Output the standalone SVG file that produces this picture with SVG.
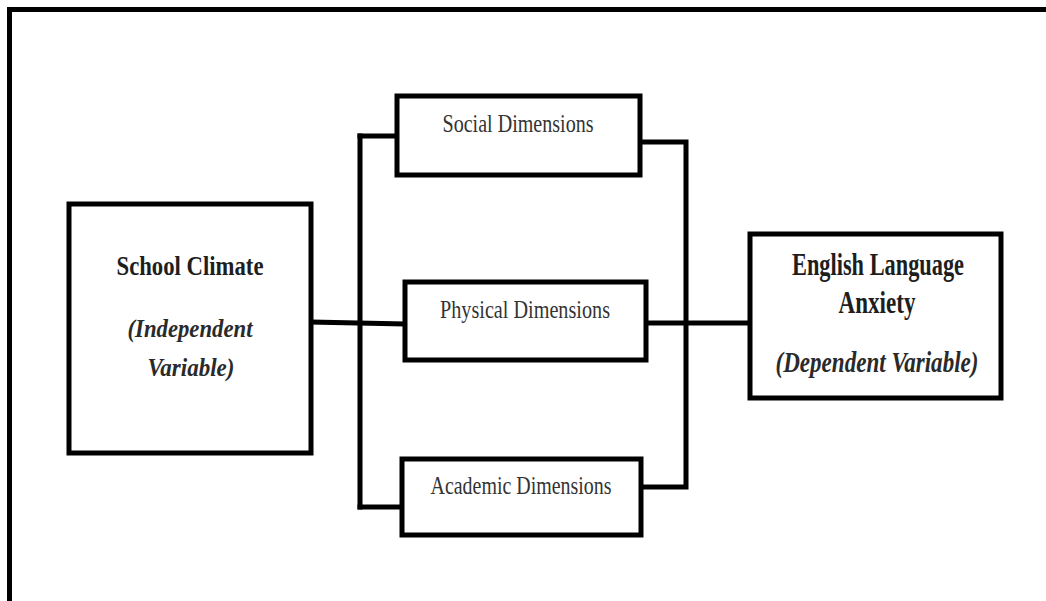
<svg xmlns="http://www.w3.org/2000/svg" width="1046" height="601" viewBox="0 0 1046 601">
<style>
.box{fill:#fff;stroke:#000;stroke-width:5}
.ln{fill:none;stroke:#000;stroke-width:5;stroke-linecap:square;stroke-linejoin:miter}
.t{font-family:"Liberation Serif","Times New Roman",serif;text-anchor:middle}
.reg{fill:#333;font-size:26px}
.bold{fill:#1e1e1e;font-weight:bold}
.it{fill:#2a2a2a;font-weight:bold;font-style:italic}
</style>
<rect width="1046" height="601" fill="#fff"/>
<path class="ln" d="M9.5,601 V9.5 H1046"/>
<g id="connectors">
<path class="ln" d="M311,322 L403,324"/>
<path class="ln" d="M360,136 V507"/>
<path class="ln" d="M360,136 H397"/>
<path class="ln" d="M360,507 H402"/>
<path class="ln" d="M640,142 H686 V487 H641"/>
<path class="ln" d="M646,323 H750"/>
</g>
<g id="school-climate">
<rect class="box" x="69" y="204" width="242" height="249"/>
<text class="t bold" x="190" y="275" font-size="28" textLength="147" lengthAdjust="spacingAndGlyphs">School Climate</text>
<text class="t it" x="190" y="337" font-size="26" textLength="125" lengthAdjust="spacingAndGlyphs">(Independent</text>
<text class="t it" x="191" y="376" font-size="26" textLength="87" lengthAdjust="spacingAndGlyphs">Variable)</text>
</g>
<g id="social">
<rect class="box" x="397" y="96" width="243" height="79"/>
<text class="t reg" x="518" y="132" textLength="151" lengthAdjust="spacingAndGlyphs">Social Dimensions</text>
</g>
<g id="physical">
<rect class="box" x="405" y="282" width="241" height="78"/>
<text class="t reg" x="525" y="318" textLength="170" lengthAdjust="spacingAndGlyphs">Physical Dimensions</text>
</g>
<g id="academic">
<rect class="box" x="402" y="459" width="239" height="76"/>
<text class="t reg" x="521" y="494" textLength="181" lengthAdjust="spacingAndGlyphs">Academic Dimensions</text>
</g>
<g id="english-anxiety">
<rect class="box" x="750" y="234" width="251" height="164"/>
<text class="t bold" x="878" y="275" font-size="31" textLength="172" lengthAdjust="spacingAndGlyphs">English Language</text>
<text class="t bold" x="877" y="313" font-size="31" textLength="77" lengthAdjust="spacingAndGlyphs">Anxiety</text>
<text class="t it" x="877" y="372" font-size="29" textLength="203" lengthAdjust="spacingAndGlyphs">(Dependent Variable)</text>
</g>
</svg>
